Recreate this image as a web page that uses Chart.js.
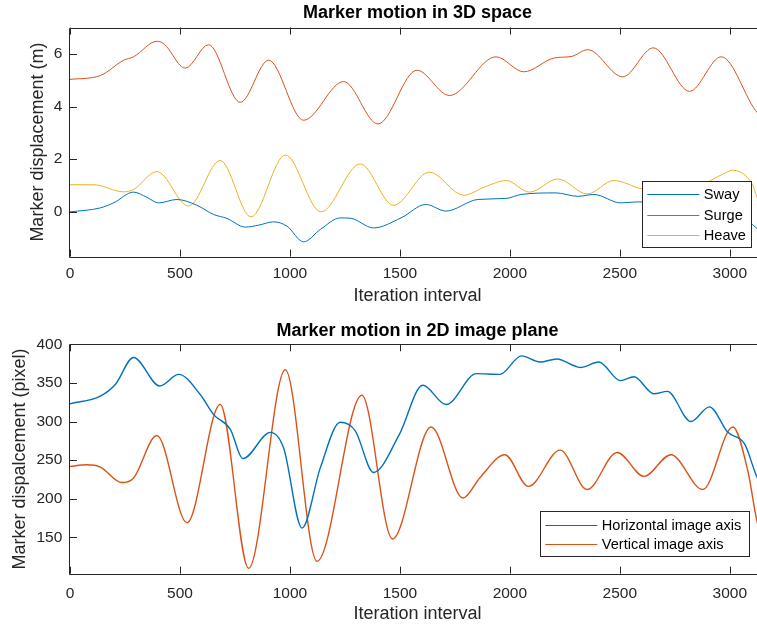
<!DOCTYPE html>
<html>
<head>
<meta charset="utf-8">
<script src="https://cdn.jsdelivr.net/npm/chart.js@4"></script>
<style>
  html, body { margin: 0; padding: 0; background: #fff; overflow: hidden; }
  .wrap { position: absolute; left: 0; width: 765px; height: 314px; }
</style>
</head>
<body>
<div class="wrap" style="top:0"><canvas id="top3d" width="765" height="314"></canvas></div>
<div class="wrap" style="top:314px"><canvas id="bot2d" width="765" height="314"></canvas></div>
<script>
// ---- data ----
const xTicks = [0, 500, 1000, 1500, 2000, 2500, 3000];
const yTicksTop = [0, 2, 4, 6];
const yTicksBot = [150, 200, 250, 300, 350, 400];

const swayX = [0, 138, 200, 289, 350, 403, 486, 577, 653, 714, 797, 860, 926, 986, 1062, 1138, 1229, 1274, 1380, 1505, 1618, 1709, 1854, 1983, 2051, 2210, 2309, 2382, 2504, 2580, 2700, 2850, 3000, 3103, 3126, 3160];
const swayY = [0, 0.15, 0.35, 0.75, 0.55, 0.34, 0.47, 0.25, -0.1, -0.25, -0.58, -0.5, -0.38, -0.54, -1.14, -0.67, -0.23, -0.24, -0.61, -0.23, 0.28, 0.03, 0.47, 0.51, 0.66, 0.72, 0.59, 0.66, 0.34, 0.38, 0.3, 0.2, -0.05, -0.48, -0.65, -0.75];

const surgeX = [0, 138, 244, 289, 395, 426, 524, 630, 774, 903, 1062, 1244, 1400, 1577, 1725, 1937, 2063, 2203, 2278, 2354, 2513, 2652, 2817, 2961, 3127, 3160];
const surgeY = [5.03, 5.18, 5.76, 5.89, 6.48, 6.39, 5.46, 6.35, 4.16, 5.76, 3.48, 4.95, 3.34, 5.38, 4.42, 5.89, 5.32, 5.85, 5.9, 6.16, 5.13, 6.23, 4.58, 5.89, 3.75, 3.6];

const heaveX = [0, 108, 244, 289, 395, 539, 683, 823, 979, 1141, 1320, 1471, 1634, 1790, 1884, 1983, 2089, 2218, 2352, 2473, 2602, 2780, 2966, 3012, 3103, 3126, 3160];
const heaveY = [1.03, 1.03, 0.76, 0.85, 1.53, 0.22, 1.95, -0.19, 2.16, 0.0, 1.82, 0.25, 1.51, 0.63, 0.94, 1.19, 0.75, 1.25, 0.68, 1.19, 0.87, 0.75, 1.42, 1.58, 1.04, 0.53, 0.4];

const horizX = [0, 138, 206, 289, 408, 494, 592, 653, 729, 786, 911, 971, 1055, 1138, 1229, 1297, 1380, 1497, 1604, 1710, 1848, 1954, 2053, 2137, 2213, 2320, 2404, 2503, 2564, 2655, 2716, 2823, 2907, 2991, 3067, 3127, 3160];
const horizY = [323, 333, 348, 383, 346, 361, 335, 309, 290, 252, 286, 266, 162, 240, 299, 288, 234, 283, 347, 322, 362, 361, 385, 377, 381, 370, 377, 353, 358, 336, 339, 300, 319, 286, 271, 226, 215];

const vertX = [0, 77, 138, 236, 289, 395, 532, 683, 812, 979, 1123, 1327, 1466, 1642, 1787, 1863, 1977, 2084, 2229, 2351, 2488, 2610, 2732, 2877, 3014, 3082, 3127, 3160];
const vertY = [242, 244, 241, 221, 227, 282, 169, 322, 110, 367, 119, 334, 148, 293, 201, 227, 257, 216, 263, 212, 260, 229, 257, 212, 293, 236, 167, 150];

const BLUE = '#0072BD', ORANGE = '#D95319', YELLOW = '#EDB120';
const AXIS = '#262626';
const FONT = "'Liberation Sans', Arial, sans-serif";

function pts(xs, ys) { return xs.map((x, i) => ({ x: x, y: ys[i] })); }

// box + inward ticks like matlab
const boxPlugin = {
    id: 'box',
    afterDatasetsDraw(chart) {
        const { ctx, chartArea: a, scales } = chart;
        ctx.save();
        ctx.strokeStyle = AXIS;
        ctx.lineWidth = 1;
        ctx.beginPath();
        ctx.rect(Math.round(a.left) - 0.5, Math.round(a.top) + 0.5, a.right - a.left, Math.round(a.bottom) - Math.round(a.top));
        ctx.stroke();
        const tl = 7;
        ctx.beginPath();
        scales.x.ticks.forEach(t => {
            const px = Math.round(scales.x.getPixelForValue(t.value)) + 0.5;
            ctx.moveTo(px, a.bottom); ctx.lineTo(px, a.bottom - tl);
            ctx.moveTo(px, a.top); ctx.lineTo(px, a.top + tl);
        });
        scales.y.ticks.forEach(t => {
            const py = Math.round(scales.y.getPixelForValue(t.value)) + 0.5;
            ctx.moveTo(a.left, py); ctx.lineTo(a.left + tl, py);
        });
        ctx.stroke();
        ctx.restore();
    }
};

// boxed legend inside the axes
const boxLegend = {
    id: 'boxLegend',
    afterDraw(chart, args, opts) {
        const { ctx, chartArea: a } = chart;
        const x = a.right - opts.right - opts.w;
        const y = a.bottom - opts.bottom - opts.h;
        ctx.save();
        ctx.fillStyle = '#fff';
        ctx.fillRect(x, y, opts.w, opts.h);
        ctx.strokeStyle = AXIS;
        ctx.lineWidth = 1;
        ctx.strokeRect(Math.round(x) + 0.5, Math.round(y) + 0.5, Math.round(opts.w), Math.round(opts.h));
        ctx.font = '14.6px ' + FONT;
        ctx.textBaseline = 'middle';
        chart.data.datasets.forEach((ds, i) => {
            const ry = Math.round(y + opts.first + i * opts.row) + 0.5;
            ctx.strokeStyle = ds.borderColor;
            ctx.lineWidth = 1;
            ctx.beginPath();
            ctx.moveTo(x + 5, ry); ctx.lineTo(x + 5 + opts.line, ry);
            ctx.stroke();
            ctx.fillStyle = '#000';
            ctx.fillText(ds.label, x + 5 + opts.line + 4.5, ry);
        });
        ctx.restore();
    }
};

function makeChart(id, cfg) {
    return new Chart(document.getElementById(id), {
        type: 'line',
        data: { datasets: cfg.datasets },
        options: {
            responsive: false,
            animation: false,
            events: [],
            layout: { padding: 0 },
            elements: { point: { radius: 0 }, line: { cubicInterpolationMode: 'monotone' } },
            scales: {
                x: {
                    type: 'linear', min: 0, max: 3160,
                    afterBuildTicks: s => { s.ticks = xTicks.map(v => ({ value: v })); },
                    afterFit: s => { s.height = cfg.xh; },
                    grid: { display: false, drawTicks: false },
                    border: { display: false },
                    ticks: { color: AXIS, font: { family: FONT, size: 15.5 }, padding: cfg.xpad, maxRotation: 0, callback: v => String(v) },
                    title: { display: true, text: 'Iteration interval', color: AXIS, font: { family: FONT, size: 18 }, padding: { top: 0, bottom: cfg.xtpad } }
                },
                y: {
                    min: cfg.ymin, max: cfg.ymax,
                    afterBuildTicks: s => { s.ticks = cfg.yticks.map(v => ({ value: v })); },
                    afterFit: s => { s.width = 70; },
                    grid: { display: false, drawTicks: false },
                    border: { display: false },
                    ticks: { color: AXIS, font: { family: FONT, size: 15.5 }, padding: 7.7, callback: v => String(v) },
                    title: { display: true, text: cfg.ytitle, color: AXIS, font: { family: FONT, size: 18 }, padding: { top: cfg.ytpad, bottom: 0 } }
                }
            },
            plugins: {
                legend: { display: false },
                tooltip: { enabled: false },
                title: {
                    display: true, fullSize: false, text: cfg.title, color: '#000',
                    font: { family: FONT, size: 18, weight: 'bold' },
                    padding: { top: cfg.tpad[0], bottom: cfg.tpad[1] }
                },
                boxLegend: cfg.legend
            }
        },
        plugins: [boxPlugin, boxLegend]
    });
}

makeChart('top3d', {
    title: 'Marker motion in 3D space',
    tpad: [2.2, 3.8],
    ytitle: 'Marker displacement (m)',
    ymin: -1.7, ymax: 7, yticks: yTicksTop,
    xh: 57.4, xpad: 7.5, xtpad: 6.7, ytpad: 27.4,
    legend: { right: 13.3, bottom: 10, w: 109.4, h: 65.7, first: 13.3, row: 20.5, line: 52 },
    datasets: [
        { label: 'Sway', data: pts(swayX, swayY), borderColor: BLUE, borderWidth: 1 },
        { label: 'Surge', data: pts(surgeX, surgeY), borderColor: ORANGE, borderWidth: 1 },
        { label: 'Heave', data: pts(heaveX, heaveY), borderColor: YELLOW, borderWidth: 1 }
    ]
});

makeChart('bot2d', {
    title: 'Marker motion in 2D image plane',
    tpad: [6.2, 2.5],
    ytitle: 'Marker dispalcement (pixel)',
    ymin: 103, ymax: 400, yticks: yTicksBot,
    xh: 54.3, xpad: 10.5, xtpad: 3.2, ytpad: 9,
    legend: { right: 15.7, bottom: 18, w: 209, h: 44.7, first: 14, row: 19.3, line: 52 },
    datasets: [
        { label: 'Horizontal image axis', data: pts(horizX, horizY), borderColor: BLUE, borderWidth: 1.4 },
        { label: 'Vertical image axis', data: pts(vertX, vertY), borderColor: ORANGE, borderWidth: 1.4 }
    ]
});
</script>
</body>
</html>
